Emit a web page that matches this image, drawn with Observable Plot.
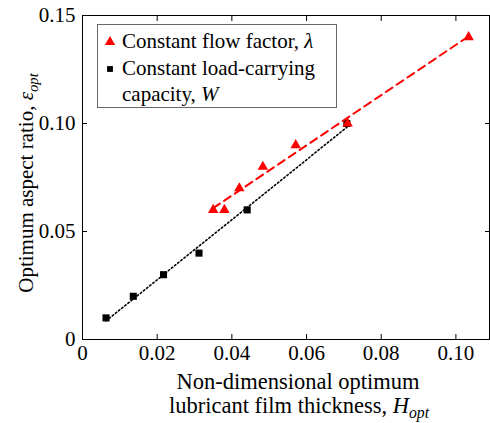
<!DOCTYPE html>
<html><head><meta charset="utf-8">
<script src="https://cdn.jsdelivr.net/npm/d3@7"></script>
<script src="https://cdn.jsdelivr.net/npm/@observablehq/plot@0.6"></script>
<style>
body{margin:0;background:#fff;}
#wrap{position:relative;width:490px;height:423px;}
svg text{font-family:'Liberation Serif','Times New Roman',serif;}
</style></head><body><div id="wrap"></div>
<script>
// Data
const flowH   = [0.0350, 0.0380, 0.0420, 0.0483, 0.0571, 0.0710, 0.1034];
const flowEps = [0.060, 0.060, 0.070, 0.080, 0.090, 0.100, 0.140];
const loadH   = [0.0063, 0.0136, 0.0217, 0.0312, 0.0441, 0.0708];
const loadEps = [0.010, 0.020, 0.030, 0.040, 0.060, 0.100];
const xTicks = [0, 0.02, 0.04, 0.06, 0.08, 0.10];
const xTickLabels = ["0", "0.02", "0.04", "0.06", "0.08", "0.10"];
const yTicks = [0, 0.05, 0.10, 0.15];
const yTickLabels = ["0", "0.05", "0.10", "0.15"];
const flowName = "Constant flow factor, ";
const flowSym = "λ";
const loadName1 = "Constant load-carrying";
const loadName2 = "capacity, ";
const loadSym = "W";
const xTitle1 = "Non-dimensional optimum";
const xTitle2 = "lubricant film thickness, ";
const yTitle = "Optimum aspect ratio, ";

const flow = flowH.map((h, i) => ({h, eps: flowEps[i]}));
const load = loadH.map((h, i) => ({h, eps: loadEps[i]}));

const FS = 21;
const font = "'Liberation Serif', 'Times New Roman', serif";
const noText = () => "";
const chart = Plot.plot({
  width: 490, height: 423,
  marginLeft: 82, marginTop: 15, marginRight: 1, marginBottom: 84,
  style: {fontFamily: font, fontSize: FS + "px", background: "white", overflow: "visible"},
  x: {domain: [0, 0.109]},
  y: {domain: [0, 0.15]},
  marks: [
    Plot.frame({stroke: "black", strokeWidth: 1}),
    Plot.axisX(xTicks, {anchor: "bottom", tickSize: 0, tickPadding: 6, fontSize: FS, label: null,
      tickFormat: d => xTickLabels[xTicks.indexOf(d)]}),
    Plot.axisX(xTicks, {anchor: "bottom", tickSize: -5, tickFormat: noText, label: null}),
    Plot.axisX(xTicks, {anchor: "top", tickSize: -5, tickFormat: noText, label: null}),
    Plot.axisY(yTicks, {anchor: "left", tickSize: 0, tickPadding: 7, fontSize: FS, label: null,
      tickFormat: d => yTickLabels[yTicks.indexOf(d)]}),
    Plot.axisY(yTicks, {anchor: "left", tickSize: -5, tickFormat: noText, label: null}),
    Plot.axisY(yTicks, {anchor: "right", tickSize: -5, tickFormat: noText, label: null}),
    Plot.linearRegressionY(load, {x: "h", y: "eps", ci: 0, stroke: "black", strokeWidth: 1.6, strokeDasharray: "1.6,2.4"}),
    Plot.dot(load, {x: "h", y: "eps", symbol: "square", r: 4, fill: "black", stroke: "none"}),
    Plot.linearRegressionY(flow, {x: "h", y: "eps", ci: 0, stroke: "#ff0000", strokeWidth: 2, strokeDasharray: "8,5"}),
    Plot.dot(flow, {x: "h", y: "eps", symbol: "triangle", r: 3.9, fill: "#ff0000", stroke: "none"})
  ]
});
document.getElementById("wrap").appendChild(chart);

const svg = d3.select(chart);
function addText(g, x, y, parts, anchor, transform, fs) {
  const size = fs || FS;
  const t = g.append("text").attr("font-family", font).attr("font-size", size).attr("fill", "black")
    .attr("text-anchor", anchor || "start");
  if (transform) t.attr("transform", transform); else t.attr("x", x).attr("y", y);
  parts.forEach(p => {
    const s = t.append("tspan").text(p.t);
    if (p.i) s.attr("font-style", "italic");
    if (p.sub) s.attr("font-size", size * 0.7).attr("dy", 5);
  });
  return t;
}
// Axis titles
addText(svg, 298, 389, [{t: xTitle1}], "middle", null, 22.5);
addText(svg, 299, 413, [{t: xTitle2}, {t: "H", i: true}, {t: "opt", i: true, sub: true}], "middle", null, 22.5);
addText(svg, 0, 0, [{t: yTitle}, {t: "ε", i: true}, {t: "opt", i: true, sub: true}], "middle", "translate(33,183) rotate(-90)");

// Legend
const lg = svg.append("g");
lg.append("rect").attr("x", 97.5).attr("y", 24.5).attr("width", 239).attr("height", 83)
  .attr("fill", "white").attr("stroke", "#666").attr("stroke-width", 1);
lg.append("path").attr("d", d3.symbol(d3.symbolTriangle, 3.8 * 3.8 * Math.PI)()).attr("transform", "translate(110,42)").attr("fill", "#ff0000");
lg.append("path").attr("d", d3.symbol(d3.symbolSquare, 3.3 * 3.3 * Math.PI)()).attr("transform", "translate(110,69)").attr("fill", "black");
addText(lg, 122, 48, [{t: flowName}, {t: flowSym, i: true}]);
addText(lg, 122, 75, [{t: loadName1}]);
addText(lg, 122, 101, [{t: loadName2}, {t: loadSym, i: true}]);
</script></body></html>
